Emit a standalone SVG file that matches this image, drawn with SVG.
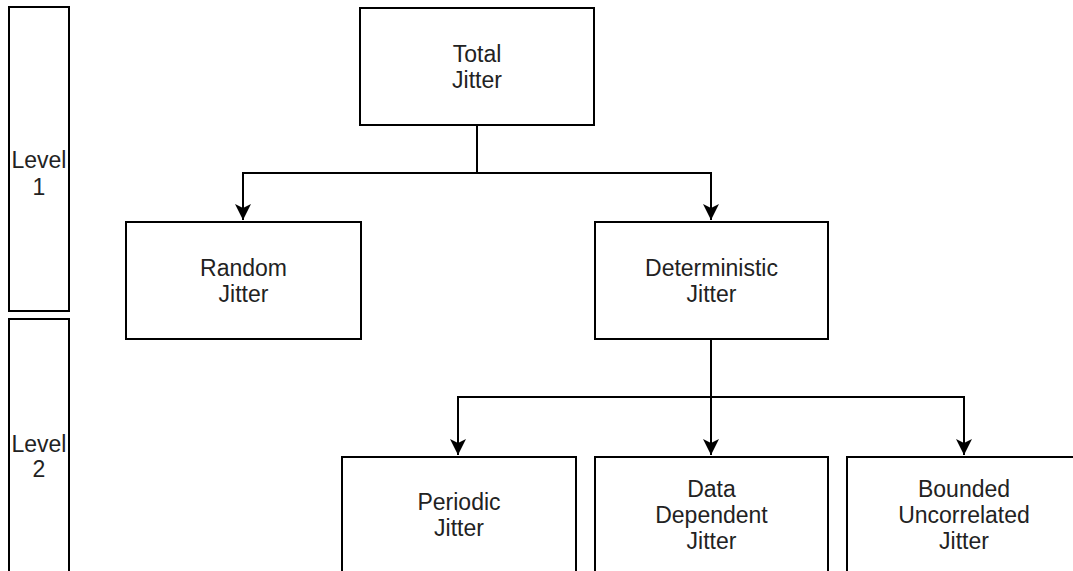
<svg xmlns="http://www.w3.org/2000/svg" width="1073" height="571" viewBox="0 0 1073 571">
<style>
.box{fill:#fff;stroke:#000;stroke-width:2}
.lbl{font-family:"Liberation Sans",Arial,Helvetica,sans-serif;font-size:23px;fill:#222;text-anchor:middle}
.edge{fill:none;stroke:#000;stroke-width:2}
.head{fill:#000;stroke:#000;stroke-width:1}
</style>
<defs>
<marker id="arr" viewBox="0 0 18 18" refX="17" refY="9" markerWidth="18" markerHeight="18" markerUnits="userSpaceOnUse" orient="auto">
<path d="M1,1 L17,9 L1,17 L5,9 Z" fill="#000"/>
</marker>
</defs>
<rect width="1073" height="571" fill="#fff"/>
<g id="level1">
<rect class="box" x="9" y="7" width="60" height="304"/>
<text class="lbl" x="39" y="168">Level</text>
<text class="lbl" x="39" y="195">1</text>
</g>
<g id="level2">
<rect class="box" x="9" y="319" width="60" height="320"/>
<text class="lbl" x="39" y="452">Level</text>
<text class="lbl" x="39" y="477">2</text>
</g>
<g id="connectors">
<path class="edge" d="M477,125 V173"/>
<path class="edge" d="M477,173 H243 V220" marker-end="url(#arr)"/>
<path class="edge" d="M477,173 H711 V220" marker-end="url(#arr)"/>
<path class="edge" d="M711,339 V397"/>
<path class="edge" d="M711,397 H458 V455" marker-end="url(#arr)"/>
<path class="edge" d="M711,397 V455" marker-end="url(#arr)"/>
<path class="edge" d="M711,397 H964 V455" marker-end="url(#arr)"/>
</g>
<g id="total">
<rect class="box" x="360" y="8" width="234" height="117"/>
<text class="lbl" x="477" y="62">Total</text>
<text class="lbl" x="477" y="88">Jitter</text>
</g>
<g id="random">
<rect class="box" x="126" y="222" width="235" height="117"/>
<text class="lbl" x="243.5" y="276">Random</text>
<text class="lbl" x="243.5" y="302">Jitter</text>
</g>
<g id="deterministic">
<rect class="box" x="595" y="222" width="233" height="117"/>
<text class="lbl" x="711.5" y="276">Deterministic</text>
<text class="lbl" x="711.5" y="302">Jitter</text>
</g>
<g id="periodic">
<rect class="box" x="342" y="457" width="234" height="117"/>
<text class="lbl" x="459" y="510">Periodic</text>
<text class="lbl" x="459" y="536">Jitter</text>
</g>
<g id="datadependent">
<rect class="box" x="595" y="457" width="233" height="117"/>
<text class="lbl" x="711.5" y="497">Data</text>
<text class="lbl" x="711.5" y="523">Dependent</text>
<text class="lbl" x="711.5" y="549">Jitter</text>
</g>
<g id="bounded">
<rect class="box" x="847" y="457" width="234" height="117"/>
<text class="lbl" x="964" y="497">Bounded</text>
<text class="lbl" x="964" y="523">Uncorrelated</text>
<text class="lbl" x="964" y="549">Jitter</text>
</g>
</svg>
